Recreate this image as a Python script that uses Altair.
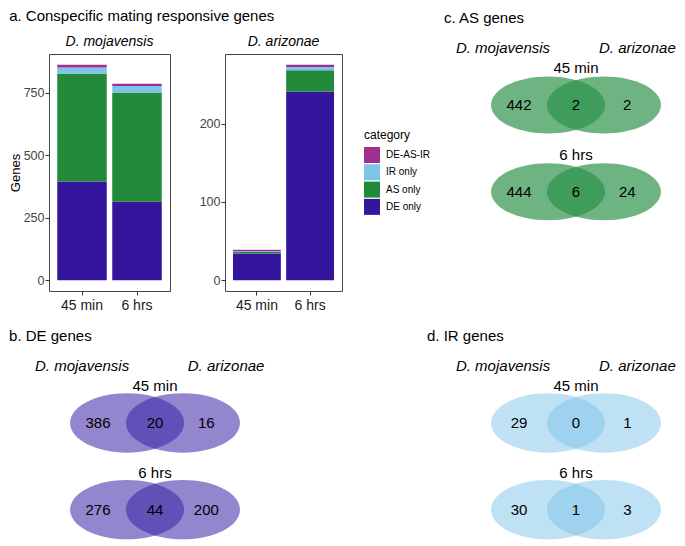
import altair as alt
import pandas as pd

# ---------------- data ----------------
times = ["45 min", "6 hrs"]
species = ["D. mojavensis", "D. arizonae"]
categories = ["DE only", "AS only", "IR only", "DE-AS-IR"]
cat_colors = ["#33169c", "#238a3b", "#7dc4ea", "#a0308f"]

moj_de = [395, 314]
moj_as = [432, 438]
moj_ir = [25, 26]
moj_all = [11, 9]
ari_de = [34, 241]
ari_as = [2, 27]
ari_ir = [1, 4]
ari_all = [2, 3]
moj_ticks = [0, 250, 500, 750]
ari_ticks = [0, 100, 200]

venn_times = ["45 min", "6 hrs"]
venn_species = ["D. mojavensis", "D. arizonae"]
as_45 = [442, 2, 2]
as_6 = [444, 6, 24]
de_45 = [386, 20, 16]
de_6 = [276, 44, 200]
ir_45 = [29, 0, 1]
ir_6 = [30, 1, 3]

FONT = "Liberation Sans"
BAR_H = 237

# ---------------- bar panels ----------------
rows = []
for sp, series in ((species[0], [moj_de, moj_as, moj_ir, moj_all]),
                   (species[1], [ari_de, ari_as, ari_ir, ari_all])):
    for ci, (cat, vals) in enumerate(zip(categories, series)):
        for t, v in zip(times, vals):
            rows.append(dict(species=sp, time=t, category=cat, rank=ci, genes=v))
bars = pd.DataFrame(rows)

legend_order = categories[::-1]
legend_colors = cat_colors[::-1]


def bar_panel(sp, ticks, width, show_title):
    sub = bars[bars.species == sp]
    top = sub.groupby("time")["genes"].sum().max()
    yaxis = alt.Axis(values=ticks, grid=False, domain=False, tickSize=4,
                     tickColor="#333", labelColor="#444", labelFontSize=12.5,
                     labelPadding=1, titleFontSize=13, titleFontWeight="normal",
                     titleColor="black", titlePadding=1,
                     title="Genes" if show_title else None)
    b = alt.Chart(sub).mark_bar().encode(
        x=alt.X("time:N", sort=times,
                scale=alt.Scale(paddingInner=0.1, paddingOuter=0.15),
                axis=alt.Axis(title=None, labelAngle=0, labelFontSize=14,
                              labelColor="#1a1a1a", tickColor="#333",
                              tickSize=4, domain=False, labelPadding=3)),
        y=alt.Y("genes:Q", stack="zero",
                scale=alt.Scale(domain=[-0.05 * top, 1.05 * top], nice=False,
                                zero=False),
                axis=yaxis),
        color=alt.Color("category:N",
                        scale=alt.Scale(domain=legend_order, range=legend_colors),
                        legend=alt.Legend(
                            title="category", orient="none", legendX=315,
                            legendY=76, titleFontSize=12,
                            titleFontWeight="normal", titleColor="black",
                            labelFontSize=10, labelColor="black",
                            symbolType="square", symbolSize=256,
                            symbolStrokeWidth=0, symbolOpacity=1,
                            rowPadding=1.3, titlePadding=5, padding=0,
                            labelOffset=6)),
        order=alt.Order("rank:Q", sort="ascending"),
    )
    header = alt.Chart(pd.DataFrame({"s": [sp]})).mark_text(
        fontSize=14, fontStyle="italic", font=FONT, color="black",
        baseline="middle").encode(text="s:N", x=alt.value(width / 2),
                                  y=alt.value(-12))
    layer = alt.layer(b, header).properties(width=width, height=BAR_H)
    if show_title:
        layer = layer.properties(title=alt.TitleParams(
            "a. Conspecific mating responsive genes", anchor="start",
            frame="bounds", fontSize=15, fontWeight="normal", color="black",
            offset=11, font=FONT))
    return layer


bar1 = bar_panel(species[0], moj_ticks, 121, True)
bar2 = bar_panel(species[1], ari_ticks, 117, False)

# ---------------- Venn panels ----------------
PX = 57.0                     # pixels per layout unit
ellipse_x = [-0.49, 0.49]     # set centres (layout units)
count_x = [-1.0, 0.0, 0.9]
row_y = [0.0, 1.52]
time_dy = -0.65
species_y = -1.0
title_y = -1.52
moj_x = -1.28


def ellipse_path(k):
    c = 0.5523
    return (f"M-1,0C-1,{-c * k:.4f},{-c:.4f},{-k},0,{-k}"
            f"C{c:.4f},{-k},1,{-c * k:.4f},1,0"
            f"C1,{c * k:.4f},{c:.4f},{k},0,{k}"
            f"C{-c:.4f},{k},-1,{c * k:.4f},-1,0Z")


def venn(title, c45, c6, xmin, width, ymin, height, title_x, ari_right,
         color, alpha, k):
    xmax = xmin + width / PX
    ymax = ymin + height / PX
    xs = alt.Scale(domain=[xmin, xmax], nice=False, zero=False)
    ys = alt.Scale(domain=[ymin, ymax], nice=False, zero=False, reverse=True)
    ell = pd.DataFrame({"x": ellipse_x * 2,
                        "y": [row_y[0]] * 2 + [row_y[1]] * 2})
    cnt = pd.DataFrame({"x": count_x * 2,
                        "y": [row_y[0]] * 3 + [row_y[1]] * 3,
                        "n": [str(v) for v in c45 + c6]})
    tl = pd.DataFrame({"x": [0.0, 0.0],
                       "y": [row_y[0] + time_dy, row_y[1] + time_dy],
                       "t": venn_times})
    sp1 = pd.DataFrame({"x": [moj_x], "y": [species_y], "s": [venn_species[0]]})
    sp2 = pd.DataFrame({"x": [ari_right], "y": [species_y], "s": [venn_species[1]]})
    tt = pd.DataFrame({"x": [title_x], "y": [title_y], "s": [title]})

    def X():
        return alt.X("x:Q", scale=xs, axis=None)

    def Y():
        return alt.Y("y:Q", scale=ys, axis=None)

    txt = dict(fontSize=15, font=FONT, color="black", baseline="middle")
    e = alt.Chart(ell).mark_point(
        shape=ellipse_path(k), size=(2 * PX) ** 2, filled=True, fill=color,
        opacity=alpha, strokeWidth=0).encode(x=X(), y=Y())
    n = alt.Chart(cnt).mark_text(**txt).encode(x=X(), y=Y(), text="n:N")
    t = alt.Chart(tl).mark_text(**txt).encode(x=X(), y=Y(), text="t:N")
    s1 = alt.Chart(sp1).mark_text(fontStyle="italic", **txt).encode(
        x=X(), y=Y(), text="s:N")
    s2 = alt.Chart(sp2).mark_text(fontStyle="italic", align="right", **txt).encode(
        x=X(), y=Y(), text="s:N")
    ti = alt.Chart(tt).mark_text(align="left", **txt).encode(
        x=X(), y=Y(), text="s:N")
    return alt.layer(e, n, t, s1, s2, ti).properties(
        width=width, height=height,
        view=alt.ViewBackground(stroke="transparent"),
    )


# panel placement: venn content may spill past its (invisible) plot frame
as_venn = venn("c. AS genes", as_45, as_6, -3.14, 279, -0.895, 237,
               -2.316, 1.75, "#2a9147", 0.68, 0.5)
de_venn = venn("b. DE genes", de_45, de_6, -1.86, 121, -1.614, 200,
               -2.56, 1.92, "#3a22a6", 0.55, 0.52)
ir_venn = venn("d. IR genes", ir_45, ir_6, -6.158, 117, -1.614, 200,
               -2.614, 1.75, "#7dc4ea", 0.5, 0.52)

chart = alt.concat(
    bar1, bar2, as_venn, de_venn, ir_venn,
    columns=3, bounds="flush",
    spacing=alt.RowColnumber(row=40, column=55),
).properties(padding=0).configure(font=FONT).configure_view(
    stroke="#444", strokeWidth=1)

chart.save("out.html", embed_options={"renderer": "svg", "actions": False})
